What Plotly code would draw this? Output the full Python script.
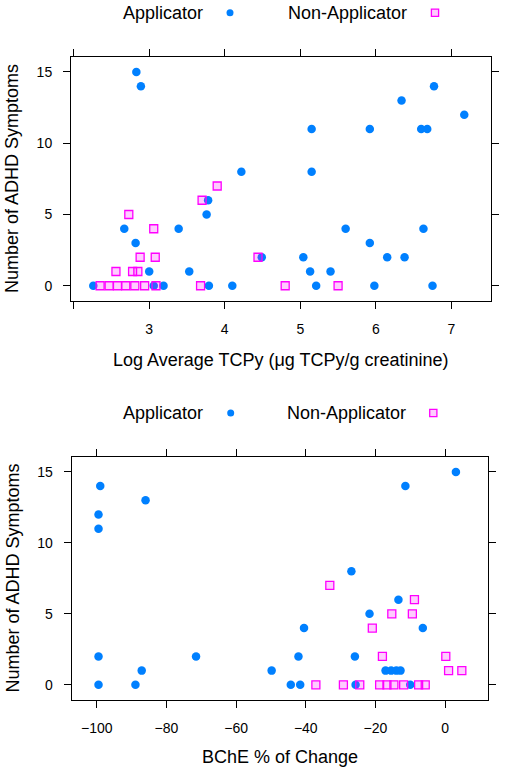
import plotly.graph_objects as go

W, H = 507, 769

# ---------------- Data ----------------
# Top panel: Log Average TCPy vs number of ADHD symptoms
tcpy_app_x = [2.83, 2.89, 4.22, 3.78, 3.76, 2.67, 3.39, 2.82, 4.49, 3.00, 3.53,
              2.26, 3.06, 3.19, 3.79, 4.10, 5.21, 5.98, 6.75, 5.13, 5.40, 5.04,
              6.15, 6.38, 5.92, 5.60, 6.63, 5.15, 5.15, 5.92, 6.60, 6.68, 7.17,
              6.34, 6.77]
tcpy_app_y = [15, 14, 8, 6, 5, 4, 4, 3, 2, 1, 1,
              0, 0, 0, 0, 0, 0, 0, 0, 1, 1, 2,
              2, 2, 3, 4, 4, 8, 11, 11, 11, 11, 12,
              13, 14]
tcpy_non_x = [3.90, 3.70, 2.73, 3.06, 2.88, 3.08, 4.44, 2.56, 2.78, 2.85,
              2.35, 2.47, 2.58, 2.69, 2.81, 2.94, 3.09, 3.68, 4.80, 5.50]
tcpy_non_y = [7, 6, 5, 4, 2, 2, 2, 1, 1, 1,
              0, 0, 0, 0, 0, 0, 0, 0, 0, 0]

# Bottom panel: BChE % of change vs number of ADHD symptoms
bche_app_x = [-99.0, -86.0, -99.5, -99.5, -99.5, -71.5, -87.1, -49.8, -99.5, -88.9,
              -44.3, -41.6, 3.1, -11.4, -26.9, -13.4, -21.7, -40.5, -6.4, -42.1,
              -25.9, -17.1, -15.5, -14.0, -12.8, -25.7, -10.0]
bche_app_y = [14, 13, 12, 11, 2, 2, 1, 1, 0, 0,
              0, 0, 15, 14, 8, 6, 5, 4, 4, 2,
              2, 1, 1, 1, 1, 0, 0]
bche_non_x = [-33.1, -8.8, -15.3, -9.4, -20.9, -18.0, 0.2, 1.0, 4.8,
              -37.1, -29.2, -24.5, -18.8, -16.7, -14.7, -11.9, -7.6, -5.7]
bche_non_y = [7, 6, 5, 5, 4, 2, 2, 1, 1,
              0, 0, 0, 0, 0, 0, 0, 0, 0]

y_ticks = [0, 5, 10, 15]
tcpy_ticks = [2, 3, 4, 5, 6, 7]
tcpy_tick_text = ["", "3", "4", "5", "6", "7"]
bche_ticks = [-100, -80, -60, -40, -20, 0]

group_names = ["Applicator", "Non-Applicator"]

# ---------------- Styling ----------------
BLUE = "#0080FF"
PINK = "#FF00FF"
PINK_FILL = "rgba(255,0,255,0.2)"
FONT = "Liberation Sans, Arial, sans-serif"


def px_x(p):
    return p / W


def px_y(p):
    return 1 - p / H


fig = go.Figure()

app_marker = dict(symbol="circle", size=8.5, color=BLUE, line=dict(width=0))
non_marker = dict(symbol="square", size=8, color=PINK_FILL, line=dict(color=PINK, width=1.3))

fig.add_trace(go.Scatter(x=tcpy_app_x, y=tcpy_app_y, mode="markers", marker=app_marker,
                         name=group_names[0], xaxis="x", yaxis="y", showlegend=False))
fig.add_trace(go.Scatter(x=tcpy_non_x, y=tcpy_non_y, mode="markers", marker=non_marker,
                         name=group_names[1], xaxis="x", yaxis="y", showlegend=False))
fig.add_trace(go.Scatter(x=bche_app_x, y=bche_app_y, mode="markers", marker=app_marker,
                         name=group_names[0], xaxis="x2", yaxis="y2", showlegend=False))
fig.add_trace(go.Scatter(x=bche_non_x, y=bche_non_y, mode="markers", marker=non_marker,
                         name=group_names[1], xaxis="x2", yaxis="y2", showlegend=False))

axis_common = dict(
    showline=True, linecolor="#000000", linewidth=1, mirror="ticks",
    ticks="outside", ticklen=7, tickwidth=1, tickcolor="#000000",
    showgrid=False, zeroline=False,
    tickfont=dict(family=FONT, size=14, color="#000000"),
    automargin=False, fixedrange=True,
)

fig.update_layout(
    width=W, height=H, autosize=False,
    margin=dict(l=0, r=0, t=0, b=0, pad=0),
    paper_bgcolor="white", plot_bgcolor="white",
    showlegend=False,
    font=dict(family=FONT, color="#000000"),
    xaxis=dict(domain=[71 / W, 490.7 / W], range=[1.965, 7.52],
               tickmode="array", tickvals=tcpy_ticks, ticktext=tcpy_tick_text,
               anchor="y", ticklabelstandoff=8, **axis_common),
    yaxis=dict(domain=[px_y(300.7), px_y(57)], range=[-1.05, 16.05],
               tickmode="array", tickvals=y_ticks, anchor="x",
               ticklabelstandoff=8, **axis_common),
    xaxis2=dict(domain=[71.7 / W, 488.3 / W], range=[-107.2, 12.4],
                tickmode="array", tickvals=bche_ticks, anchor="y2",
                ticklabelstandoff=8, **axis_common),
    yaxis2=dict(domain=[px_y(700), px_y(456.7)], range=[-1.07, 16.07],
                tickmode="array", tickvals=y_ticks, anchor="x2",
                ticklabelstandoff=8, **axis_common),
)

title_font = dict(family=FONT, size=18, color="#000000")
annotations = [
    dict(text="Log Average TCPy (μg TCPy/g creatinine)", x=px_x(280.5), y=px_y(360)),
    dict(text="BChE % of Change", x=px_x(279.5), y=px_y(756.5)),
    dict(text="Number of ADHD Symptoms", x=px_x(12), y=px_y(179), textangle=-90),
    dict(text="Number of ADHD Symptoms", x=px_x(12), y=px_y(578.5), textangle=-90),
    dict(text=group_names[0], x=px_x(163.3), y=px_y(12.7)),
    dict(text=group_names[1], x=px_x(347.5), y=px_y(12.7)),
    dict(text=group_names[0], x=px_x(163.3), y=px_y(413)),
    dict(text=group_names[1], x=px_x(346), y=px_y(413)),
]
for a in annotations:
    a.update(xref="paper", yref="paper", xanchor="center", yanchor="middle",
             showarrow=False, font=title_font)
fig.update_layout(annotations=annotations)

# legend keys (symbol after text, lattice style)
shapes = []
for cx, cy in [(230, 12.7), (230.7, 413)]:
    shapes.append(dict(type="circle", xref="paper", yref="paper",
                       x0=px_x(cx - 3.5), x1=px_x(cx + 3.5), y0=px_y(cy + 3.5), y1=px_y(cy - 3.5),
                       fillcolor=BLUE, line=dict(width=0)))
for cx, cy in [(435, 12.7), (433.3, 413)]:
    shapes.append(dict(type="rect", xref="paper", yref="paper",
                       x0=px_x(cx - 3.6), x1=px_x(cx + 3.6), y0=px_y(cy + 3.6), y1=px_y(cy - 3.6),
                       fillcolor=PINK_FILL, line=dict(color=PINK, width=1.3)))
fig.update_layout(shapes=shapes)

fig.write_html("out.html", config={"displayModeBar": False, "staticPlot": True},
               post_script="document.body.style.margin='0';document.body.style.overflow='hidden';")
